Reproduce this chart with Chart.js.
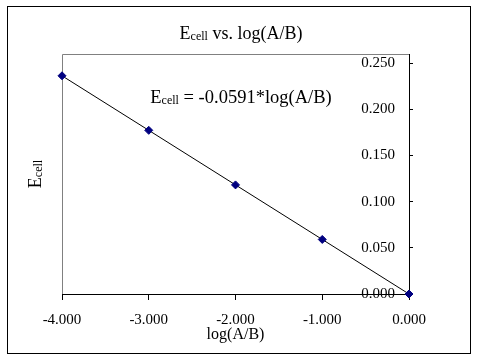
<!DOCTYPE html>
<html>
<head>
<meta charset="utf-8">
<script src="https://cdn.jsdelivr.net/npm/chart.js@4/dist/chart.umd.min.js"></script>
<style>
  body { margin: 0; background: #fff; }
  #frame { position: absolute; left: 7px; top: 6px; width: 464px; height: 348px; box-sizing: border-box; border: 1px solid #000; }
  #holder { position: absolute; left: 0; top: 0; width: 480px; height: 364px; }
</style>
</head>
<body>
<div id="frame"></div>
<div id="holder"><canvas id="chart"></canvas></div>
<script>
const logRatio = [-4, -3, -2, -1, 0];
const eCell = [0.2364, 0.1773, 0.1182, 0.0591, 0.0];
const xTicks = [-4, -3, -2, -1, 0];
const yTicks = [0, 0.05, 0.1, 0.15, 0.2, 0.25];

const SERIF = "'Liberation Serif', 'Times New Roman', serif";

// draws text runs like [["E", 18, 0], ["cell", 12, 1]] so the subscript works
function drawRuns(ctx, runs, x, y) {
  let width = 0;
  for (const r of runs) {
    ctx.font = r[1] + "px " + SERIF;
    width += ctx.measureText(r[0]).width;
  }
  let cx = x - width / 2;
  ctx.textAlign = "left";
  ctx.textBaseline = "alphabetic";
  ctx.fillStyle = "#000";
  for (const r of runs) {
    ctx.font = r[1] + "px " + SERIF;
    ctx.fillText(r[0], cx, y + r[2]);
    cx += ctx.measureText(r[0]).width;
  }
}

const excelLook = {
  id: "excelLook",
  beforeDatasetsDraw(chart) {
    const { ctx, chartArea: a } = chart;
    ctx.save();
    ctx.strokeStyle = "#808080";
    ctx.lineWidth = 1;
    ctx.beginPath();
    ctx.moveTo(a.left + 0.5, a.bottom);
    ctx.lineTo(a.left + 0.5, a.top + 0.5);
    ctx.lineTo(a.right, a.top + 0.5);
    ctx.stroke();
    ctx.restore();
  },
  afterDraw(chart) {
    const { ctx } = chart;
    ctx.save();
    drawRuns(ctx, [["E", 18, 0], ["cell", 12, 1], [" vs. log(A/B)", 18, 0]], 241, 39);
    drawRuns(ctx, [["E", 18.5, 0], ["cell", 12, 1], [" = -0.0591*log(A/B)", 18.5, 0]], 241, 103);
    ctx.translate(41, 174);
    ctx.rotate(-Math.PI / 2);
    drawRuns(ctx, [["E", 18, 0], ["cell", 12, 1]], 0, 0);
    ctx.restore();
  }
};

new Chart(document.getElementById("chart"), {
  type: "scatter",
  data: {
    datasets: [{
      data: logRatio.map((x, i) => ({ x: x, y: eCell[i] })),
      showLine: true,
      borderColor: "#000",
      borderWidth: 1,
      pointStyle: "rectRot",
      pointRadius: 4,
      pointHoverRadius: 4,
      pointBackgroundColor: "#000080",
      pointBorderColor: "#000080",
      clip: false
    }]
  },
  options: {
    responsive: true,
    maintainAspectRatio: false,
    animation: false,
    layout: { padding: { top: 54, left: 62, right: 67, bottom: 0 } },
    plugins: {
      legend: { display: false },
      tooltip: { enabled: false }
    },
    scales: {
      x: {
        type: "linear",
        position: "bottom",
        min: -4,
        max: 0,
        afterBuildTicks: axis => { axis.ticks = xTicks.map(v => ({ value: v })); },
        afterFit: axis => {
          axis.height = 70;
          axis.paddingLeft = 0;
          axis.paddingRight = 0;
        },
        grid: { drawOnChartArea: false, drawTicks: true, tickLength: 6, color: "#000" },
        border: { color: "#000", width: 1 },
        ticks: {
          color: "#000",
          font: { family: SERIF, size: 15, lineHeight: 1 },
          padding: 13,
          maxRotation: 0,
          callback: v => v.toFixed(3)
        },
        title: {
          display: true,
          text: "log(A/B)",
          color: "#000",
          font: { family: SERIF, size: 16, lineHeight: 1 },
          padding: { top: 0, bottom: 21 }
        }
      },
      y: {
        type: "linear",
        position: "right",
        min: 0,
        max: 0.26,
        afterBuildTicks: axis => { axis.ticks = yTicks.map(v => ({ value: v })); },
        afterFit: axis => {
          axis.width = 4;
          axis.paddingTop = 0;
          axis.paddingBottom = 0;
        },
        grid: { drawOnChartArea: false, drawTicks: true, tickLength: 4, color: "#000" },
        border: { color: "#000", width: 1 },
        ticks: {
          color: "#000",
          mirror: true,
          padding: -14,
          font: { family: SERIF, size: 15 },
          callback: v => v.toFixed(3)
        }
      }
    }
  },
  plugins: [excelLook]
});
</script>
</body>
</html>
